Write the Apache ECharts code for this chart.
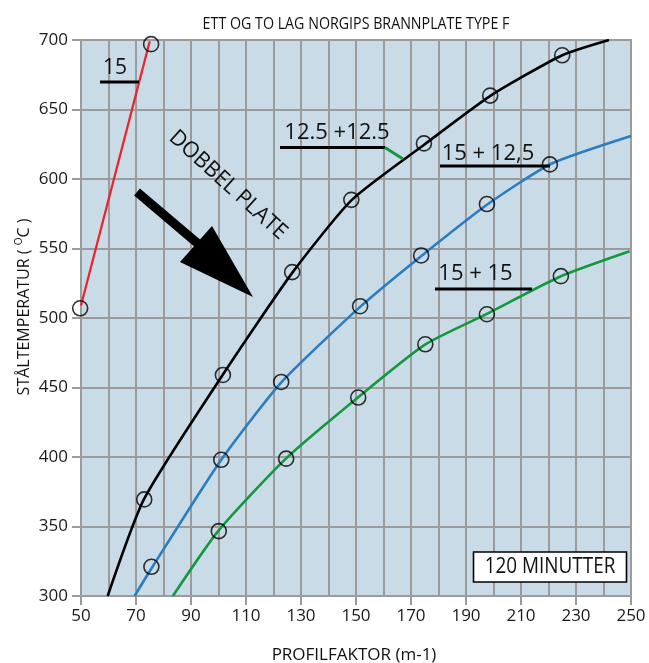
<!DOCTYPE html>
<html><head><meta charset="utf-8">
<script src="https://cdn.jsdelivr.net/npm/echarts@6/dist/echarts.min.js"></script>
<style>html,body{margin:0;background:#fff}#c{width:649px;height:663px}</style>
</head><body><div id="c"></div>
<script>
// ---- data (profile factor m-1, steel temperature °C) ----
const titleText = 'ETT OG TO LAG NORGIPS BRANNPLATE TYPE F';
const xName = 'PROFILFAKTOR (m-1)';
const xMin = 50, xMax = 250, xStep = 20;
const yMin = 300, yMax = 700, yStep = 50;

const redLine   = [[50,509],[75,699]];
const redPts    = [[49.7,507],[75.5,697]];
const blackLine = [[59.7,300],[73,370],[101.5,459],[127,533],[148.5,585],[175,625],[199,660],[225,689],[242,700]];
const blackPts  = [[73,369.5],[101.6,459],[126.8,533],[148.3,585],[174.7,625.6],[198.8,660],[225,689]];
const blueLine  = [[69.5,300],[76,321],[101,398],[123,454],[151.5,508],[174,545],[198,582],[221,611],[250,631]];
const bluePts   = [[75.6,321],[101,398],[122.8,454],[151.5,508.5],[173.7,545],[197.6,582],[220.5,610.5]];
const greenLine = [[83.4,300],[100,347],[124.6,399],[150.8,443],[175.2,481],[197.6,503],[224.5,530],[249.5,548]];
const greenPts  = [[100.1,346.7],[124.6,398.8],[150.8,442.8],[175.2,481.1],[197.6,502.7],[224.5,530.1]];

const GRID = '#9b9b9b';
const FONT = 'Open Sans';

const chart = echarts.init(document.getElementById('c'), null, {renderer:'canvas'});

function lineSeries(data, color, w){
  return {type:'line', data, showSymbol:false, smooth:0.2,
    lineStyle:{color, width:w}, z:3, silent:true, animation:false};
}
function ptSeries(data){
  return {type:'scatter', data, symbol:'circle', symbolSize:15, clip:false,
    itemStyle:{color:'rgba(0,0,0,0)', borderColor:'#000', borderWidth:1.6}, z:5, silent:true, animation:false};
}
function txt(x,y,text,size,sx,extra){
  return Object.assign({type:'text', x, y, scaleX:sx||1, z:10,
    style:{text, fontFamily:FONT, fontSize:size, fill:'#111', align:'center', verticalAlign:'middle'}}, extra||{});
}
function seg(x1,y1,x2,y2,color,w){
  return {type:'line', z:10, shape:{x1,y1,x2,y2}, style:{stroke:color, lineWidth:w}};
}

chart.setOption({
  animation:false,
  grid:{left:81, top:40, width:550, height:556, show:true, backgroundColor:'#c9dbe6', borderColor:GRID, borderWidth:2},
  xAxis:{type:'value', min:xMin, max:xMax, interval:xStep,
    axisLine:{show:true, onZero:false, lineStyle:{color:GRID, width:2}},
    axisTick:{show:true, length:9, lineStyle:{color:GRID, width:2}},
    axisLabel:{fontFamily:FONT, fontSize:17, color:'#1a1a1a', margin:12, showMinLabel:true, showMaxLabel:true},
    splitLine:{show:true, lineStyle:{color:GRID, width:2}},
    minorTick:{show:false, splitNumber:2},
    minorSplitLine:{show:true, lineStyle:{color:GRID, width:2}}},
  yAxis:{type:'value', min:yMin, max:yMax, interval:yStep,
    axisLine:{show:true, onZero:false, lineStyle:{color:GRID, width:2}},
    axisTick:{show:true, length:9, lineStyle:{color:GRID, width:2}},
    axisLabel:{fontFamily:FONT, fontSize:17, color:'#1a1a1a', margin:13, showMinLabel:true, showMaxLabel:true},
    splitLine:{show:true, lineStyle:{color:GRID, width:2}}},
  series:[
    lineSeries(redLine,'#e8232b',2.2),
    lineSeries(blackLine,'#000',2.6),
    lineSeries(blueLine,'#2b7cc0',2.6),
    lineSeries(greenLine,'#15973f',2.6),
    ptSeries(redPts), ptSeries(blackPts), ptSeries(bluePts), ptSeries(greenPts)
  ],
  graphic:[
    txt(356,24,titleText,16,0.89),
    txt(354,655,xName,17,1.0),
    {type:'text', x:24, y:307, rotation:Math.PI/2, scaleX:1.0, z:10,
      style:{text:'{n|STÅLTEMPERATUR ( }{s|O}{n|C )}', fontFamily:FONT, fontSize:16, fill:'#111', align:'center', verticalAlign:'middle',
        rich:{n:{fontFamily:FONT, fontSize:16, fill:'#111'}, s:{fontFamily:FONT, fontSize:10, fill:'#111', padding:[0,0,9,0]}}}},
    // legend labels
    txt(115,68,'15',21,1),
    seg(100,82,139,82,'#000',3),
    txt(337,133,'12.5 +12.5',22,1.0),
    seg(280,147.5,385,147.5,'#000',3),
    seg(385,147.5,403,159,'#15973f',3),
    txt(488,154,'15 + 12,5',22,1.0),
    seg(440,166,550,166,'#000',3),
    txt(475.5,274,'15 + 15',22,1.0),
    seg(435,289,532,289,'#000',3),
    // DOBBEL PLATE
    txt(228,185,'DOBBEL PLATE',22,0.98,{rotation:-0.738}),
    seg(137,192,203,248,'#000',9),
    {type:'polygon', z:10, shape:{points:[[180,262],[212,226],[253,297]]}, style:{fill:'#000'}},
    // 120 MINUTTER box
    {type:'rect', z:10, shape:{x:473.5,y:552,width:153,height:30}, style:{fill:'#fff', stroke:'#000', lineWidth:1.6}},
    txt(550,567,'120 MINUTTER',21,0.9)
  ]
});
</script></body></html>
